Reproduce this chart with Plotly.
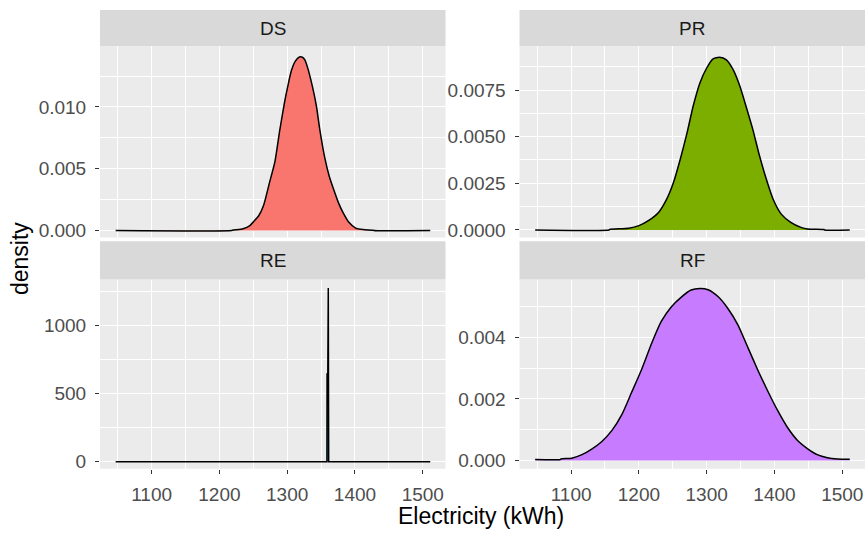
import plotly.graph_objects as go

W, H = 865, 533

groups = ["DS", "PR", "RE", "RF"]
fills = ["#F8766D", "#7CAE00", "#00BFC4", "#C77CFF"]

# Density curves (x in kWh, y = density)
ds_x = [1047, 1218, 1219, 1235, 1245, 1250, 1258, 1265, 1274, 1282, 1289, 1296, 1301, 1306,
        1312, 1318, 1323, 1326, 1330, 1337, 1343, 1348, 1355, 1362, 1370, 1376, 1382, 1391,
        1401, 1412, 1427, 1428, 1511]
ds_y = [0, 0, 0.00003, 0.00015, 0.0004, 0.0007, 0.0012, 0.0020, 0.0039, 0.0056, 0.0081, 0.01035,
        0.0117, 0.0129, 0.0137, 0.01404, 0.0140, 0.0138, 0.0132, 0.0117, 0.0101, 0.0082, 0.0060,
        0.0044, 0.0031, 0.0022, 0.0015, 0.00067, 0.0002, 0.00008, 0.00003, 0, 0]

pr_x = [1047, 1156, 1157, 1185, 1200, 1214, 1229, 1241, 1251, 1261, 1271, 1280, 1290, 1300,
        1309, 1319, 1329, 1339, 1349, 1358, 1368, 1378, 1388, 1398, 1410, 1424, 1439, 1449,
        1473, 1474, 1511]
pr_y = [0, 0, 0.00003, 0.00009, 0.00023, 0.0005, 0.00094, 0.00165, 0.00254, 0.00379, 0.0052,
        0.00663, 0.00788, 0.00868, 0.00916, 0.00926, 0.00912, 0.00859, 0.0077, 0.00663, 0.00539,
        0.00396, 0.00272, 0.00165, 0.00085, 0.00041, 0.00014, 0.00005, 0.00002, 0, 0]

re_x = [1047, 1358.6, 1358.8, 1359.9, 1360.6, 1361.0, 1361.2, 1511]
re_y = [0, 0, 643, 643, 1274, 0, 0, 0]

rf_x = [1047, 1084, 1085, 1101, 1116, 1131, 1145, 1160, 1175, 1189, 1204, 1219, 1233, 1248,
        1263, 1277, 1290, 1302, 1317, 1331, 1346, 1361, 1375, 1390, 1405, 1419, 1434, 1449,
        1463, 1478, 1493, 1511]
rf_y = [0.00003, 0.00003, 0.00005, 0.000075, 0.00019, 0.00038, 0.00061, 0.00097, 0.0015, 0.0022,
        0.00296, 0.00382, 0.00452, 0.005, 0.00532, 0.00554, 0.00559, 0.00555, 0.00532, 0.00495,
        0.00441, 0.00366, 0.00296, 0.00226, 0.00161, 0.00108, 0.00065, 0.00038, 0.00019, 0.00009,
        0.00005, 0.00004]

xs = [ds_x, pr_x, re_x, rf_x]
ys = [ds_y, pr_y, re_y, rf_y]
shapes_line = ["spline", "spline", "linear", "spline"]

x_ticks = [1100, 1200, 1300, 1400, 1500]
y_ticks = [[0, 0.005, 0.010], [0, 0.0025, 0.005, 0.0075], [0, 500, 1000], [0, 0.002, 0.004]]
y_minor = [0.0025, 0.00125, 250, 0.001]
y_fmt = [".3f", ".4f", "d", ".3f"]
y_ranges = [[-0.00056, 0.0149], [-0.000404, 0.00984], [-51, 1335], [-0.000268, 0.00588]]
x_range = [1023.9, 1533.5]

FONT = "Liberation Sans, Arial, sans-serif"

def px_x(p):
    return p / W

def px_y(p):
    return 1 - p / H

# panel geometry in pixels (left, right, top, bottom) and strip top
panels = [
    (100, 445.5, 46.7, 239.3, 10),
    (519.5, 865, 46.7, 239.3, 10),
    (100, 445.5, 281.7, 472.3, 243),
    (519.5, 865, 281.7, 472.3, 243),
]

fig = go.Figure()
layout = dict(
    width=W, height=H,
    margin=dict(l=0, r=0, t=0, b=0),
    paper_bgcolor="white",
    plot_bgcolor="#EBEBEB",
    showlegend=False,
    font=dict(family=FONT),
)
shapes = []
annotations = []

for i, g in enumerate(groups):
    n = "" if i == 0 else str(i + 1)
    fig.add_trace(go.Scatter(
        x=xs[i], y=ys[i], mode="lines", fill="tozeroy",
        fillcolor=fills[i],
        line=dict(color="black", width=1.5, shape=shapes_line[i], smoothing=0.6),
        xaxis="x" + n, yaxis="y" + n, hoverinfo="skip",
    ))
    l, r, t, b, st = panels[i]
    bottom_row = i >= 2
    layout["xaxis" + n] = dict(
        domain=[px_x(l), px_x(r)], anchor="y" + n, range=x_range,
        tickmode="array", tickvals=x_ticks, ticktext=[str(v) for v in x_ticks],
        showticklabels=bottom_row, ticks="outside" if bottom_row else "",
        ticklen=4, tickwidth=1.2, tickcolor="#333333",
        tickfont=dict(size=19, color="#4D4D4D", family=FONT),
        ticklabelstandoff=4,
        showgrid=True, gridcolor="white", gridwidth=1.4,
        minor=dict(tickmode="array", tickvals=[1050, 1150, 1250, 1350, 1450],
                   showgrid=True, gridcolor="white", gridwidth=0.7, ticks=""),
        zeroline=False, showline=False, fixedrange=True,
    )
    layout["yaxis" + n] = dict(
        domain=[px_y(b), px_y(t)], anchor="x" + n, range=y_ranges[i],
        tickmode="array", tickvals=y_ticks[i], tickformat=y_fmt[i],
        ticks="outside", ticklen=4, tickwidth=1.2, tickcolor="#333333",
        tickfont=dict(size=19, color="#4D4D4D", family=FONT),
        ticklabelstandoff=5,
        showgrid=True, gridcolor="white", gridwidth=1.4,
        minor=dict(tickmode="linear", tick0=y_minor[i], dtick=2 * y_minor[i],
                   showgrid=True, gridcolor="white", gridwidth=0.7, ticks=""),
        zeroline=False, showline=False, fixedrange=True,
    )
    shapes.append(dict(type="rect", xref="paper", yref="paper",
                       x0=px_x(l), x1=px_x(r), y0=px_y(t), y1=px_y(st),
                       fillcolor="#D9D9D9", line=dict(width=0), layer="below"))
    annotations.append(dict(text=g, xref="paper", yref="paper",
                            x=px_x((l + r) / 2), y=px_y((t + st) / 2),
                            xanchor="center", yanchor="middle", showarrow=False,
                            font=dict(size=19, color="#1A1A1A", family=FONT)))

annotations.append(dict(text="density", xref="paper", yref="paper",
                        x=px_x(20), y=px_y(261), textangle=-90,
                        xanchor="center", yanchor="middle", showarrow=False,
                        font=dict(size=23, color="black", family=FONT)))
annotations.append(dict(text="Electricity (kWh)", xref="paper", yref="paper",
                        x=px_x(481), y=px_y(520),
                        xanchor="center", yanchor="middle", showarrow=False,
                        font=dict(size=23, color="black", family=FONT)))

layout["shapes"] = shapes
layout["annotations"] = annotations
fig.update_layout(**layout)
fig.write_html("out.html")
